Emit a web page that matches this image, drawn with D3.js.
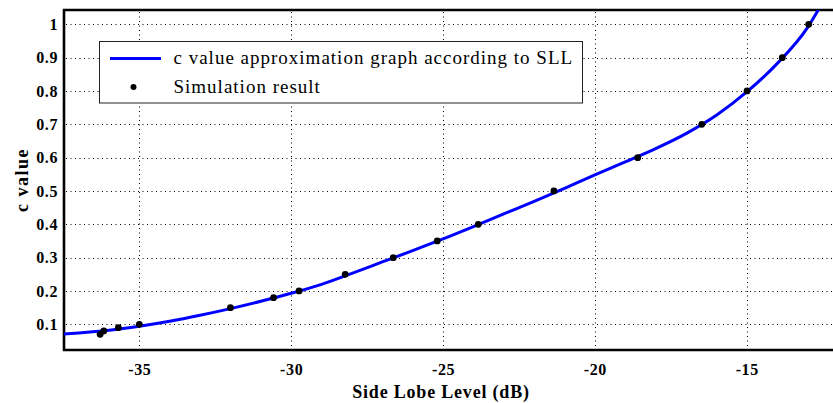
<!DOCTYPE html>
<html>
<head>
<meta charset="utf-8">
<script src="https://cdn.jsdelivr.net/npm/d3@7/dist/d3.min.js"></script>
<style>
  html, body { margin: 0; padding: 0; background: #fff; }
  svg { display: block; }
  svg text { font-family: "Liberation Serif", "Times New Roman", serif; }
  .tick text { font-weight: bold; font-size: 16px; fill: #000; }
</style>
</head>
<body>
<svg id="chart" width="833" height="403"></svg>
<script>
// Side lobe level (dB) axis ticks and c value ticks
const sllTicks = [-35, -30, -25, -20, -15];
const cTicks = [0.1, 0.2, 0.3, 0.4, 0.5, 0.6, 0.7, 0.8, 0.9, 1];

// Approximation curve: c value as a function of SLL
const curveSll = [-37.5, -37, -36, -35, -34, -33, -32, -31, -30, -29, -28, -27, -26, -25, -24, -23, -22, -21, -20, -19, -18, -17, -16, -15, -14, -13, -12.6];
const curveC   = [0.071, 0.074, 0.082, 0.094, 0.109, 0.127, 0.147, 0.169, 0.193, 0.220, 0.253, 0.287, 0.321, 0.356, 0.393, 0.431, 0.469, 0.508, 0.548, 0.587, 0.627, 0.672, 0.727, 0.797, 0.882, 0.990, 1.050];

// Simulation results
const simSll = [-36.29, -36.17, -35.69, -35.0, -32.0, -30.58, -29.74, -28.22, -26.64, -25.19, -23.84, -21.35, -18.59, -16.48, -14.99, -13.83, -12.96];
const simC   = [0.07, 0.08, 0.09, 0.10, 0.15, 0.18, 0.20, 0.25, 0.30, 0.35, 0.40, 0.50, 0.60, 0.70, 0.80, 0.90, 1.00];

const legendLabels = ["c value approximation graph according to SLL", "Simulation result"];

const svg = d3.select("#chart");
const plot = { left: 64, right: 833, top: 10, bottom: 350 };

const x = d3.scaleLinear().domain([-37.48, -12.16]).range([plot.left, plot.right]);
const y = d3.scaleLinear().domain([0.0229, 1.0429]).range([plot.bottom, plot.top]);

svg.append("defs").append("clipPath").attr("id", "plotClip")
  .append("rect")
  .attr("x", plot.left).attr("y", plot.top)
  .attr("width", plot.right - plot.left).attr("height", plot.bottom - plot.top);

// Dotted grid
const grid = svg.append("g").attr("stroke", "#000").attr("stroke-width", 1)
  .attr("stroke-dasharray", "1,3.5").attr("fill", "none");
grid.selectAll("line.h").data(cTicks).join("line")
  .attr("x1", plot.left + 2).attr("x2", plot.right)
  .attr("y1", d => Math.round(y(d)) + 0.5).attr("y2", d => Math.round(y(d)) + 0.5);
grid.selectAll("line.v").data(sllTicks).join("line")
  .attr("y1", plot.top + 2).attr("y2", plot.bottom)
  .attr("x1", d => Math.round(x(d)) + 0.5).attr("x2", d => Math.round(x(d)) + 0.5);

// Axes with labels only; plain hyphen for negative numbers
const hyphen = f => d => f(d).replace("\u2212", "-");
const yAxis = svg.append("g").attr("transform", `translate(${plot.left},0)`)
  .call(d3.axisLeft(y).tickValues(cTicks).tickSize(0).tickPadding(6).tickFormat(hyphen(d3.format("~g"))));
yAxis.attr("font-family", null);
yAxis.select(".domain").remove();
yAxis.selectAll("text").attr("letter-spacing", "0.6px");

const xAxis = svg.append("g").attr("transform", `translate(0,${plot.bottom})`)
  .call(d3.axisBottom(x).tickValues(sllTicks).tickSize(0).tickPadding(14).tickFormat(hyphen(d3.format("d"))));
xAxis.attr("font-family", null);
xAxis.select(".domain").remove();
xAxis.selectAll("text").attr("letter-spacing", "0.6px");

// Frame: top, left and bottom lines
const frame = svg.append("g").attr("stroke", "#000").attr("stroke-width", 2.6).attr("fill", "none");
frame.append("path").attr("d", `M${plot.right},${plot.top}H${plot.left}V${plot.bottom}H${plot.right}`);

// Approximation curve
const line = d3.line().x(d => x(d[0])).y(d => y(d[1])).curve(d3.curveMonotoneX);
svg.append("path")
  .datum(curveSll.map((s, i) => [s, curveC[i]]))
  .attr("clip-path", "url(#plotClip)")
  .attr("fill", "none").attr("stroke", "#0000ff").attr("stroke-width", 3)
  .attr("d", line);

// Simulation points
svg.append("g").selectAll("circle").data(simSll.map((s, i) => [s, simC[i]])).join("circle")
  .attr("cx", d => x(d[0])).attr("cy", d => y(d[1])).attr("r", 3.4).attr("fill", "#000");

// Axis titles
svg.append("text")
  .attr("x", 441).attr("y", 398).attr("text-anchor", "middle")
  .attr("font-weight", "bold")
  .attr("font-size", 18).attr("letter-spacing", "0.8px")
  .text("Side Lobe Level (dB)");
svg.append("text")
  .attr("transform", "translate(28,180) rotate(-90)").attr("text-anchor", "middle")
  .attr("font-weight", "bold")
  .attr("font-size", 18).attr("letter-spacing", "1.5px")
  .text("c value");

// Legend
const legend = svg.append("g");
legend.append("rect")
  .attr("x", 99.5).attr("y", 41.5).attr("width", 483).attr("height", 61.5)
  .attr("fill", "#fff").attr("stroke", "#222").attr("stroke-width", 1);
legend.append("line")
  .attr("x1", 110).attr("x2", 161).attr("y1", 58.5).attr("y2", 58.5)
  .attr("stroke", "#0000ff").attr("stroke-width", 3);
legend.append("circle").attr("cx", 133.5).attr("cy", 87).attr("r", 3).attr("fill", "#000");
legend.selectAll("text").data(legendLabels).join("text")
  .attr("x", 173.5).attr("y", (d, i) => 64 + i * 28.5)
  .attr("font-size", 19).attr("letter-spacing", "1px").attr("fill", "#000")
  .text(d => d);
</script>
</body>
</html>
